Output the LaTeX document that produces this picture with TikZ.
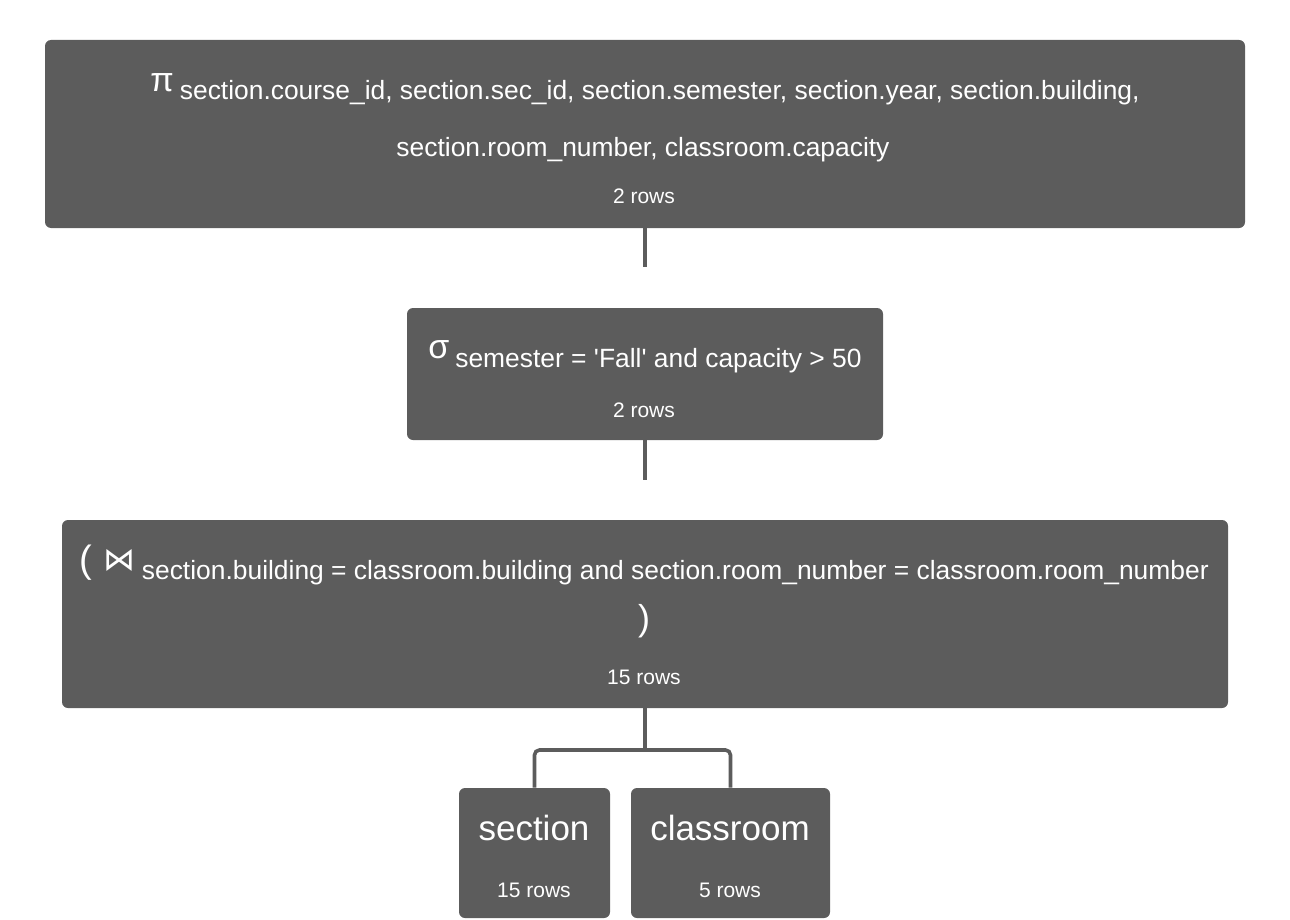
\documentclass[tikz,border=0pt]{standalone}
\usepackage{fontspec}
\setmainfont{Liberation Sans}
\newfontfamily\symfont{DejaVu Sans}

\definecolor{opgray}{RGB}{92,92,92}
\tikzset{
  opbox/.style={fill=opgray, rounded corners=3pt, inner sep=0pt},
  optext/.style={text=white, anchor=base, inner sep=0pt, font=\fontsize{13.2}{16}\selectfont},
  rowtext/.style={text=white, anchor=base, inner sep=0pt, font=\fontsize{10.5}{12}\selectfont},
  reltext/.style={text=white, anchor=base, inner sep=0pt, font=\fontsize{17.5}{20}\selectfont},
  link/.style={draw=opgray, line width=1.8pt}
}
% operator symbol, raised and a bit larger than its condition
\newcommand{\opsym}[2][17]{\raisebox{4.5pt}{\fontsize{#1}{20}\selectfont #2}\hspace{3pt}}

\begin{document}
\begin{tikzpicture}[x=0.5pt,y=-0.5pt]
\useasboundingbox (0,0) rectangle (1290,920);

% projection
\node[opbox, minimum width=600pt, minimum height=94pt] (proj) at (645,134) {};
\node[optext] (projA) at (645,100) {\opsym{π}section.course\_id, section.sec\_id, section.semester, section.year, section.building,};
\node[optext] (projB) at (643,156) {section.room\_number, classroom.capacity};
\node[rowtext] (projR) at (644,203) {2 rows};
\draw[link] (proj.south) -- ++(0,39);

% selection
\node[opbox, minimum width=238pt, minimum height=66pt] (sel) at (645,374) {};
\node[optext] (selA) at (645,367) {\opsym{σ}semester = \textquotesingle Fall\textquotesingle{} and capacity > 50};
\node[rowtext] (selR) at (644,417) {2 rows};
\draw[link] (sel.south) -- ++(0,40);

% join
\node[opbox, minimum width=583pt, minimum height=94pt] (join) at (645,614) {};
\node[optext] (joinA) at (644,579) {\raisebox{3.5pt}{\fontsize{19}{20}\selectfont(}\hspace{6pt}\opsym[16]{\symfont ⋈}section.building = classroom.building and section.room\_number = classroom.room\_number};
\node[optext] (joinB) at (644,630) {\fontsize{18}{20}\selectfont)};
\node[rowtext] (joinR) at (644,684) {15 rows};

% relations
\node[opbox, minimum width=75.5pt, minimum height=65pt] (sect) at (534.5,853) {};
\node[reltext] (sectA) at (534,840) {section};
\node[rowtext] (sectR) at (534,897) {15 rows};
\node[opbox, minimum width=99.5pt, minimum height=65pt] (room) at (730.5,853) {};
\node[reltext] (roomA) at (730,840) {classroom};
\node[rowtext] (roomR) at (730,897) {5 rows};

\coordinate (fork) at (645,750);
\draw[link] (join.south) -- (fork);
\draw[link, rounded corners=2.5pt] (fork) -| (sect.north);
\draw[link, rounded corners=2.5pt] (fork) -| (room.north);

\end{tikzpicture}
\end{document}
